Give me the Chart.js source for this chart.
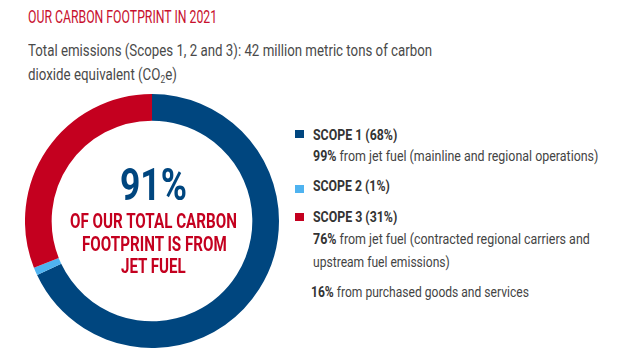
<!DOCTYPE html>
<html>
<head>
<meta charset="utf-8">
<script src="https://cdn.jsdelivr.net/npm/chart.js@4"></script>
<style>
  html, body { margin: 0; padding: 0; background: #fff; }
  body { width: 617px; height: 358px; position: relative; overflow: hidden; font-family: Roboto, sans-serif; }
  .t { position: absolute; white-space: nowrap; transform-origin: 0 0; line-height: 1; }
  .title { color: #c8102e; font-size: 19px; }
  .sub { color: #4a4a4a; font-size: 16px; }
  .big { color: #00467f; font-size: 45px; font-weight: 700; }
  .mid { color: #c4001f; font-size: 20px; font-weight: 700; }
  .lg { color: #333; font-size: 15px; font-weight: 700; }
  .note { color: #444; font-size: 15px; }
  .note b { font-weight: 700; color: #333; }
  .sw { position: absolute; width: 9px; height: 8px; }
  #wrap { position: absolute; left: 25px; top: 94px; width: 254px; height: 254px; }
</style>
</head>
<body>
<div id="wrap"><canvas id="donut"></canvas></div>
<div id="texts"></div>
<script>
// chart data
const scopes = ["SCOPE 1", "SCOPE 2", "SCOPE 3"];
const shares = [68, 1, 31];
const colors = ["#00467f", "#4fb3f0", "#c4001f"];
const notes = [
  [["99%", " from jet fuel (mainline and regional operations)"]],
  [],
  [["76%", " from jet fuel (contracted regional carriers and"], ["", "upstream fuel emissions)"], ["16%", " from purchased goods and services"]]
];

new Chart(document.getElementById("donut").getContext("2d"), {
  type: "doughnut",
  data: {
    labels: scopes,
    datasets: [{ data: shares, backgroundColor: colors, borderWidth: 0 }]
  },
  options: {
    responsive: true,
    maintainAspectRatio: true,
    animation: false,
    cutout: "79%",
    plugins: { legend: { display: false }, tooltip: { enabled: false } }
  }
});

// text layer: [class, html, left, top, width]
const items = [
  ["title", "OUR CARBON FOOTPRINT IN 2021", 28, 7, 189],
  ["sub", "Total emissions (Scopes 1, 2 and 3): 42 million metric tons of carbon", 28, 43, 404],
  ["sub", "dioxide equivalent (CO<sub style='font-size:10px;vertical-align:-3px'>2</sub>e)", 28, 67, 149],
  ["big", "91%", 120, 162, 67],
  ["mid", "OF OUR TOTAL CARBON", 70, 211, 167],
  ["mid", "FOOTPRINT IS FROM", 82, 234, 145],
  ["mid", "JET FUEL", 121, 256, 65]
];

const legendTops = [128, 179, 210];
const noteTops = [[149], [], [232, 255, 285]];
const noteW = [[285], [], [277, 137, 218]];
const labelW = [84, 77, 84];
scopes.forEach((s, i) => {
  items.push(["lg", `${s} (${shares[i]}%)`, 313, legendTops[i], labelW[i]]);
  notes[i].forEach((n, j) => {
    const left = i === 2 && j === 2 ? 311 : 313;
    items.push(["note", (n[0] ? `<b>${n[0]}</b>` : "") + n[1], left, noteTops[i][j], noteW[i][j]]);
  });
  const sw = document.createElement("div");
  sw.className = "sw";
  sw.style.background = colors[i];
  sw.style.left = "295px";
  sw.style.top = [130, 185, 213][i] + "px";
  document.body.appendChild(sw);
});

const box = document.getElementById("texts");
items.forEach(([cls, html, x, y, w]) => {
  const el = document.createElement("div");
  el.className = "t " + cls;
  el.innerHTML = html;
  el.style.left = x + "px";
  el.style.top = y + "px";
  box.appendChild(el);
  el.style.transform = `scaleX(${w / el.offsetWidth})`;
});
</script>
</body>
</html>
